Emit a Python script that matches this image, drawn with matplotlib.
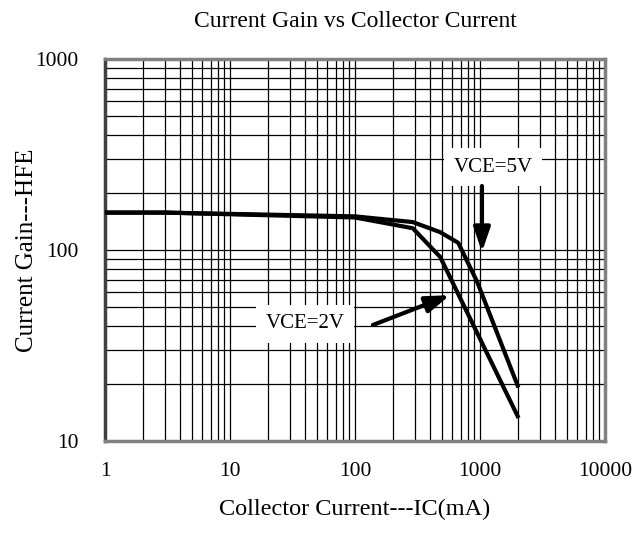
import matplotlib
matplotlib.use("Agg")
import matplotlib.pyplot as plt
from matplotlib.ticker import FixedLocator, LogLocator, NullFormatter

# Data
ic_5v = [1, 3, 100, 290, 480, 670, 950, 2000]
hfe_5v = [157, 157, 150, 140, 124, 109, 68, 19.5]
ic_2v = [1, 3, 100, 290, 480, 2000]
hfe_2v = [157, 157, 148, 130, 92, 13.5]

x_ticks = [1, 10, 100, 1000, 10000]
x_tick_labels = ["1", "10", "100", "1000", "10000"]
y_ticks = [10, 100, 1000]
y_tick_labels = ["10", "100", "1000"]

title = "Current Gain vs Collector Current"
xlabel = "Collector Current---IC(mA)"
ylabel = "Current Gain---HFE"

plt.rcParams['font.family'] = ['Liberation Serif', 'DejaVu Serif']

fig = plt.figure(figsize=(6.32, 5.36), dpi=100)
ax = fig.add_axes([105/632, 1-441/536, 500/632, 382/536])
ax.set_xscale('log')
ax.set_yscale('log')
ax.set_xlim(1, 10000)
ax.set_ylim(10, 1000)

ax.xaxis.set_major_locator(FixedLocator(x_ticks))
ax.set_xticklabels(x_tick_labels)
ax.yaxis.set_major_locator(FixedLocator(y_ticks))
ax.set_yticklabels(y_tick_labels)
ax.xaxis.set_minor_locator(LogLocator(base=10, subs=range(2, 10)))
ax.yaxis.set_minor_locator(LogLocator(base=10, subs=range(2, 10)))
ax.xaxis.set_minor_formatter(NullFormatter())
ax.yaxis.set_minor_formatter(NullFormatter())
ax.tick_params(which='both', length=0, labelsize=15.5)
ax.tick_params(axis='x', pad=15)
ax.tick_params(axis='y', pad=19)

ax.grid(True, which='both', color='black', linewidth=0.9)
ax.set_axisbelow(True)
for s in ax.spines.values():
    s.set_color('#808080')
    s.set_linewidth(2.5)
ax.spines['left'].set_color('#404040')

ax.plot(ic_5v, hfe_5v, color='black', linewidth=3, zorder=3)
ax.plot(ic_2v, hfe_2v, color='black', linewidth=3, zorder=3)

bbox = dict(boxstyle='square,pad=0.45', facecolor='white', edgecolor='none')
ax.text(10**((493-105)/125), 10**(3-(167-59)/191), "VCE=5V", fontsize=15,
        ha='center', va='center', bbox=bbox, zorder=4)
ax.text(10**((305-105)/125), 10**(3-(324-59)/191), "VCE=2V", fontsize=15,
        ha='center', va='center', bbox=bbox, zorder=4)

arrowprops = dict(arrowstyle='-|>,head_length=1.45,head_width=0.5', color='black',
                  lw=3, shrinkA=0, shrinkB=0)
ax.annotate("", xy=(1037, 97.7), xytext=(1037, 10**(3-(186-59)/191)),
            arrowprops=arrowprops, zorder=5)
ax.annotate("", xy=(575, 58), xytext=(139, 40.5),
            arrowprops=arrowprops, zorder=5)

ax.set_title(title, fontsize=17, pad=23)
ax.set_xlabel(xlabel, fontsize=17.5, labelpad=13)
ax.set_ylabel(ylabel, fontsize=18, labelpad=-2)

fig.savefig("out.png", dpi=100)
